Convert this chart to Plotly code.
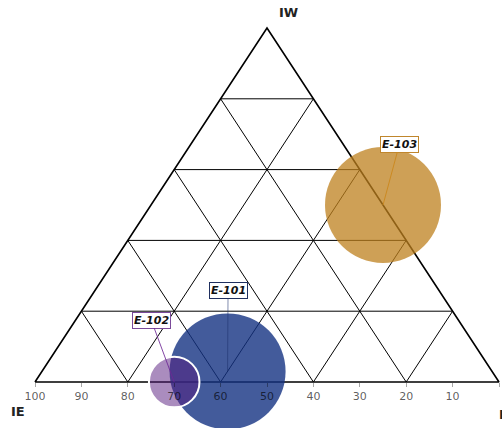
import plotly.graph_objects as go

# ---- data ----
series = ["E-101", "E-102", "E-103"]
ie_vals = [57.0, 70.0, 0.0]     # bottom-left corner component (IE)
iw_vals = [3.0, 0.0, 50.0]      # top corner component (IW)
is_vals = [40.0, 30.0, 50.0]    # bottom-right corner component
bubble_vals = [100, 19, 100]

ie_ticks = [100, 90, 80, 70, 60, 50, 40, 30, 20, 10, 0]
grid_levels = [20, 40, 60, 80]
corner_names = ["IE", "IW", "IS"]

# ---- styles ----
fill_colors = ["rgba(20,50,130,0.8)", "rgba(85,25,125,0.5)", "rgba(190,128,30,0.75)"]
line_w = [0, 2, 0]
border_colors = ["#1f2f5f", "#7b4a9a", "#c0862c"]
arrow_colors = ["rgba(30,50,110,0.55)", "rgba(110,40,150,0.85)", "#cc8a22"]
label_offsets = [(0.5, -81), (-23, -62), (16.5, -61)]
FONT = "DejaVu Sans"
W, H = 502, 428
L_PX, R_PX, T_PX, B_PX = 35, 499, 28, 382


def to_xy(e, w, s):
    t = e + w + s
    w, s = w / t, s / t
    return s + w / 2.0, w


fig = go.Figure()

# grid lines
gx, gy = [], []
for L in grid_levels:
    for a, b in [((100 - L, L, 0), (0, L, 100 - L)),
                 ((L, 100 - L, 0), (L, 0, 100 - L)),
                 ((100 - L, 0, L), (0, 100 - L, L))]:
        x0, y0 = to_xy(*a)
        x1, y1 = to_xy(*b)
        gx += [x0, x1, None]
        gy += [y0, y1, None]
fig.add_trace(go.Scatter(x=gx, y=gy, mode="lines", line=dict(color="black", width=1),
                         hoverinfo="skip", showlegend=False, cliponaxis=False))

# outline
ox, oy = [], []
for c in [(100, 0, 0), (0, 0, 100), (0, 100, 0), (100, 0, 0)]:
    x, y = to_xy(*c)
    ox.append(x)
    oy.append(y)
fig.add_trace(go.Scatter(x=ox, y=oy, mode="lines", line=dict(color="black", width=1.6),
                         hoverinfo="skip", showlegend=False, cliponaxis=False))

sizeref = 2.0 * max(bubble_vals) / (116.0 ** 2)
for i, name in enumerate(series):
    x, y = to_xy(ie_vals[i], iw_vals[i], is_vals[i])
    fig.add_trace(go.Scatter(
        x=[x], y=[y], mode="markers", name=name, showlegend=False, cliponaxis=False,
        marker=dict(size=[bubble_vals[i]], sizemode="area", sizeref=sizeref, opacity=1,
                    color=fill_colors[i], line=dict(color="white", width=line_w[i]))))
    fig.add_annotation(
        x=x, y=y, xref="x", yref="y", text="<b><i>%s</i></b>" % name,
        showarrow=True, arrowhead=0, arrowwidth=1, arrowcolor=arrow_colors[i],
        ax=label_offsets[i][0], ay=label_offsets[i][1],
        bgcolor="white", bordercolor=border_colors[i], borderwidth=1, borderpad=1,
        font=dict(family=FONT, size=11, color="#111"))

# corner labels
cx, cy = to_xy(100, 0, 0)
fig.add_annotation(x=cx, y=cy, xref="x", yref="y", text="<b>%s</b>" % corner_names[0],
                   showarrow=False, xshift=-17, yshift=-29,
                   font=dict(family=FONT, size=13, color="#222"))
cx, cy = to_xy(0, 100, 0)
fig.add_annotation(x=cx, y=cy, xref="x", yref="y", text="<b>%s</b>" % corner_names[1],
                   showarrow=False, xshift=21, yshift=16,
                   font=dict(family=FONT, size=13, color="#222"))
cx, cy = to_xy(0, 0, 100)
fig.add_annotation(x=cx, y=cy, xref="x", yref="y", text="<b>%s</b>" % corner_names[2],
                   showarrow=False, xanchor="left", xshift=-2, yshift=-32,
                   font=dict(family=FONT, size=13, color="#222"))

plot_w = R_PX - L_PX
plot_h = B_PX - T_PX
fig.update_layout(
    width=W, height=H, autosize=False,
    margin=dict(l=0, r=0, t=0, b=0),
    paper_bgcolor="white", plot_bgcolor="white",
    xaxis=dict(range=[-L_PX / plot_w, 1 + (W - R_PX) / plot_w],
               showgrid=False, zeroline=False, showline=False,
               tickvals=[to_xy(v, 0, 100 - v)[0] for v in ie_ticks],
               ticktext=[str(v) for v in ie_ticks],
               ticks="outside", ticklen=4, tickcolor="rgba(0,0,0,0.35)", tickwidth=1,
               tickfont=dict(family=FONT, size=11, color="rgba(0,0,0,0.65)"),
               anchor="free", position=(H - B_PX) / H, fixedrange=True),
    yaxis=dict(range=[-(H - B_PX) / plot_h, 1 + T_PX / plot_h], visible=False,
               fixedrange=True),
)

fig.write_html("out.html", config={"displayModeBar": False},
               post_script="document.body.style.margin='0';document.body.style.padding='0';")
